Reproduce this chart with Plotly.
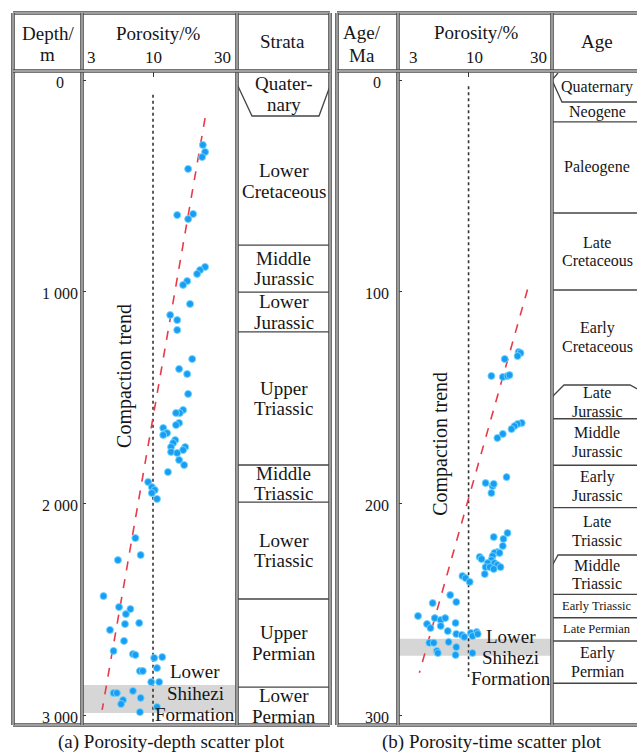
import plotly.graph_objects as go
import math

W, H = 637, 753

# ---------------- data ----------------
left_porosity = [23.4, 24.3, 23.1, 18.2, 15.1, 19.8, 18.2, 24.3, 22.3, 21.2, 17.9, 16.7, 18.8, 13.4, 15.1,
                 15.1, 19.5, 15.6, 17.9, 18.2, 16.7, 15.8, 14.8, 15.6, 14.8, 11.9, 12.3, 12.7, 11.9, 14.6,
                 14.1, 13.6, 17.3, 16.7, 13.6, 15.1, 15.6, 17.0, 12.9, 9.2, 9.8, 10.3, 9.8, 10.7, 7.4,
                 8.1, 5.5, 4.3, 5.6, 6.8, 6.3, 6.2, 7.9, 4.8, 6.1, 5.1, 7.1, 7.4, 10.2, 11.7,
                 10.7, 8.0, 8.4, 9.7, 11.1, 5.1, 5.4, 7.1, 8.1, 6.0, 5.8, 8.0, 10.7]
left_depth = [307, 340, 364, 420, 638, 633, 657, 883, 898, 916, 950, 968, 1058, 1110, 1134,
              1181, 1318, 1365, 1389, 1483, 1559, 1573, 1573, 1620, 1630, 1644, 1668, 1668, 1677, 1701,
              1715, 1734, 1734, 1748, 1757, 1762, 1795, 1819, 1852, 1899, 1923, 1937, 1951, 1979, 2164,
              2244, 2268, 2438, 2490, 2499, 2523, 2570, 2565, 2598, 2650, 2697, 2712, 2716, 2730, 2726,
              2778, 2792, 2792, 2844, 2844, 2896, 2896, 2886, 2919, 2929, 2948, 2986, 2962]

right_porosity = [23.6, 24.4, 23.2, 18.6, 14.8, 18.0, 19.5, 20.2, 24.9, 23.2, 22.0, 20.9, 18.0, 16.4, 19.2,
                  13.4, 15.1, 14.8, 15.4, 19.5, 15.4, 18.2, 18.0, 16.4, 15.6, 17.0, 15.1, 12.1, 12.5, 14.8,
                  13.9, 15.6, 16.4, 17.3, 13.4, 14.4, 15.4, 13.2, 9.0, 9.5, 10.2, 7.3, 5.4, 8.1, 4.2,
                  4.9, 5.6, 6.2, 6.7, 6.2, 8.0, 5.2, 7.0, 8.1, 8.9, 10.4, 11.5, 9.3, 10.7, 11.7,
                  5.1, 5.5, 7.1, 8.1, 5.8, 5.9, 8.0, 10.7]
right_age = [128.5, 129, 130.4, 131.8, 139.8, 140.3, 139.8, 139.4, 162, 162.5, 163.5, 164.9, 167.2, 169.1, 187.6,
             190.4, 191.8, 195.1, 190.8, 214, 215.9, 216.8, 220.1, 223, 223.4, 223.4, 224.9, 225.3, 226.3, 226.8,
             228.2, 228.2, 229.1, 230.1, 230.1, 230.1, 231, 233.4, 234.3, 235.3, 237.1, 243.3, 247.1, 246.6, 253.2,
             257, 254.2, 255.1, 254.2, 257.9, 256.5, 258.9, 260.3, 261.7, 262.2, 261.2, 260.8, 263.1, 262.7, 261.7,
             265.9, 265.9, 265.5, 267.9, 269.7, 270.7, 271.6, 270.7]

left_trend_porosity = [24.3, 4.2]
left_trend_depth = [180, 2976]
right_trend_porosity = [27.5, 4.3]
right_trend_age = [99, 280]

limit_porosity = 10
left_limit_depth = [70, 3047]
right_limit_age = [3, 282]

strata_names = ["Quater-|nary", "Lower|Cretaceous", "Middle|Jurassic", "Lower|Jurassic", "Upper|Triassic",
                "Middle|Triassic", "Lower|Triassic", "Upper|Permian", "Lower|Permian"]
strata_top = [-42, 175, 780, 1002, 1190, 1819, 1994, 2452, 2868]
strata_bottom = [175, 780, 1002, 1190, 1819, 1994, 2452, 2868, 3047]

age_names = ["Quaternary", "Neogene", "Paleogene", "Late|Cretaceous", "Early|Cretaceous", "Late|Jurassic",
             "Middle|Jurassic", "Early|Jurassic", "Late|Triassic", "Middle|Triassic", "Early Triassic",
             "Late Permian", "Early|Permian"]
age_top = [-4.25, 10.4, 19.8, 62.8, 99.2, 144, 160, 182, 202, 224, 243, 254, 265]
age_bottom = [10.4, 19.8, 62.8, 99.2, 144, 160, 182, 202, 224, 243, 254, 265, 285]
age_small = ["Early Triassic", "Late Permian"]

shihezi_depth = [2858, 2990]
shihezi_age = [264, 272]
shihezi_label = ["Lower", "Shihezi", "Formation"]

depth_ticks = [0, 1000, 2000, 3000]
depth_tick_text = ["0", "1 000", "2 000", "3 000"]
age_ticks = [0, 100, 200, 300]
age_tick_text = ["0", "100", "200", "300"]
porosity_ticks = [3, 10, 30]
porosity_tick_text = ["3", "10", "30"]

# ---------------- layout helpers ----------------
FONT = "Liberation Serif"
TXT = "#161616"
def px(x): return x / W
def py(y): return 1 - y / H

fig = go.Figure()

blue = "#1b9cf3"
halo = "rgba(110,215,255,0.9)"
red = "#e63b4b"

# left panel traces
fig.add_trace(go.Scatter(x=[limit_porosity, limit_porosity], y=left_limit_depth, mode="lines",
                         line=dict(color="#333", width=1.6, dash="dot"), xaxis="x", yaxis="y"))
fig.add_trace(go.Scatter(x=left_trend_porosity, y=left_trend_depth, mode="lines",
                         line=dict(color=red, width=1.6, dash="dash"), xaxis="x", yaxis="y"))
fig.add_trace(go.Scatter(x=left_porosity, y=left_depth, mode="markers",
                         marker=dict(color=blue, size=7, line=dict(color=halo, width=1)),
                         xaxis="x", yaxis="y"))
# right panel traces
fig.add_trace(go.Scatter(x=[limit_porosity, limit_porosity], y=right_limit_age, mode="lines",
                         line=dict(color="#333", width=1.6, dash="dot"), xaxis="x2", yaxis="y2"))
fig.add_trace(go.Scatter(x=right_trend_porosity, y=right_trend_age, mode="lines",
                         line=dict(color=red, width=1.6, dash="dash"), xaxis="x2", yaxis="y2"))
fig.add_trace(go.Scatter(x=right_porosity, y=right_age, mode="markers",
                         marker=dict(color=blue, size=7, line=dict(color=halo, width=1)),
                         xaxis="x2", yaxis="y2"))

xrange = [0.474, 1.622]
ydom = [py(725), py(71)]
common_x = dict(type="log", range=xrange, side="top", tickvals=[10], ticks="inside", ticklen=6,
                tickcolor="#333", showticklabels=False, showgrid=False, zeroline=False, showline=False)
common_y = dict(ticks="inside", ticklen=4, tickcolor="#333", showticklabels=False, showgrid=False,
                zeroline=False, showline=False)
fig.update_layout(
    width=W, height=H, margin=dict(l=0, r=0, t=0, b=0), paper_bgcolor="white",
    plot_bgcolor="rgba(0,0,0,0)", showlegend=False,
    xaxis=dict(domain=[px(82), px(237)], anchor="y", **common_x),
    yaxis=dict(domain=ydom, anchor="x", range=[3047, -42.5], tickvals=depth_ticks, **common_y),
    xaxis2=dict(domain=[px(398), px(552)], anchor="y2", **common_x),
    yaxis2=dict(domain=ydom, anchor="x2", range=[304.7, -4.25], tickvals=age_ticks, **common_y),
)

shapes = []
annotations = []

def line(x0, y0, x1, y1, color="#555", width=1.5, xref="paper", yref="paper", layer="above"):
    shapes.append(dict(type="line", x0=x0, y0=y0, x1=x1, y1=y1, xref=xref, yref=yref,
                       line=dict(color=color, width=width), layer=layer))

def dbl(x0, y0, x1, y1):
    line(px(x0), py(y0), px(x1), py(y1), color="#4a4a4a", width=3.6)
    line(px(x0), py(y0), px(x1), py(y1), color="#bdbdbd", width=1.4)

def path(points, color="#444", width=1.3):
    d = "M " + " L ".join(f"{px(a):.5f},{py(b):.5f}" for a, b in points)
    shapes.append(dict(type="path", path=d, xref="paper", yref="paper",
                       line=dict(color=color, width=width)))

def text(t, x, y, size, xref="paper", yref="paper", xanchor="center", yanchor="middle", **kw):
    annotations.append(dict(text=t, x=x, y=y, xref=xref, yref=yref, xanchor=xanchor, yanchor=yanchor,
                            showarrow=False, font=dict(family=FONT, size=size, color=TXT), **kw))

# gray Lower Shihezi bands
shapes.append(dict(type="rect", xref="x domain", yref="y", x0=0.005, x1=0.99,
                   y0=shihezi_depth[0], y1=shihezi_depth[1], fillcolor="#d6d6d6", line=dict(width=0),
                   layer="below"))
shapes.append(dict(type="rect", xref="x2 domain", yref="y2", x0=0.005, x1=0.995,
                   y0=shihezi_age[0], y1=shihezi_age[1], fillcolor="#d6d6d6", line=dict(width=0),
                   layer="below"))

# strata boundaries (left)
for b in strata_bottom[1:-1]:
    line(px(237), b, px(330), b, yref="y", color="#444", width=1.4)
path([(237, 84), (252, 116), (319, 116), (330, 86)])

# age boundaries (right)
for i, b in enumerate(age_bottom[1:]):
    nxt = age_names[i + 2] if i + 2 < len(age_names) else None
    if nxt in ("Late|Jurassic", "Middle|Triassic"):
        continue
    line(px(552), b, px(645), b, yref="y2", color="#444", width=1.4)
path([(558, 73), (552, 80), (562, 102), (645, 102)])
path([(552, 397), (564, 385), (630, 385), (645, 393)])
path([(552, 566), (558, 555), (645, 555)])

# frames
for (x0, x1, xa, xb) in [(13, 330, 82, 237), (337, 660, 398, 552)]:
    dbl(x0, 13, x1, 13)
    dbl(x0, 725, x1, 725)
    dbl(x0, 13, x0, 725)
    dbl(x1, 13, x1, 725)
    dbl(xa, 13, xa, 725)
    dbl(xb, 13, xb, 725)
    dbl(x0, 71, x1, 71)

# header texts
text("Depth/", px(48), py(34), 19)
text("m", px(48), py(54), 19)
text("Porosity/%", px(158), py(34), 19)
text("Strata", px(282), py(42), 19)
text("Age/", px(362), py(33), 19)
text("Ma", px(362), py(55), 19)
text("Porosity/%", px(476), py(33), 19)
text("Age", px(597), py(42), 19)

# porosity tick labels in header
for axis, shifts in (("x", [3, 0, 5]), ("x2", [9, 6, 6])):
    for v, lab, s in zip(porosity_ticks, porosity_tick_text, shifts):
        anchor = "left" if v == porosity_ticks[0] else "center"
        text(lab, math.log10(v), py(57), 17, xref=axis, xanchor=anchor, xshift=s)

# depth / age tick labels
for v, lab in zip(depth_ticks, depth_tick_text):
    text(lab, px(60), v, 16, yref="y", yshift=-2)
for v, lab in zip(age_ticks, age_tick_text):
    text(lab, px(377), v, 16, yref="y2", yshift=-2)

# strata names
for name, t, b in zip(strata_names, strata_top, strata_bottom):
    lines = name.split("|")
    n = len(lines)
    c = (t + b) / 2
    for i, ln in enumerate(lines):
        text(ln, px(283.5), c, 19, yref="y", yshift=((n - 1) / 2 - i) * 20.5)

for name, t, b in zip(age_names, age_top, age_bottom):
    lines = name.split("|")
    n = len(lines)
    c = (t + b) / 2
    size = 12.5 if name in age_small else 16
    sp = 18.5
    for i, ln in enumerate(lines):
        text(ln, px(597), c, size, yref="y2", yshift=((n - 1) / 2 - i) * sp)

# compaction trend labels
text("Compaction trend", math.log10(6.2), 1398, 20, xref="x", yref="y", textangle=-90)
text("Compaction trend", math.log10(6.1), 172, 20, xref="x2", yref="y2", textangle=-90)

# Lower Shihezi Formation labels
for i, ln in enumerate(shihezi_label):
    text(ln, 1.311, 2896, 19, xref="x", yref="y", yshift=(1 - i) * 21.5)
    text(ln, 1.313, 272.6, 19, xref="x2", yref="y2", yshift=(1 - i) * 21)

# captions
text("(a) Porosity-depth scatter plot", px(171), py(742), 19)
text("(b) Porosity-time scatter plot", px(492), py(742), 19)

fig.update_layout(shapes=shapes, annotations=annotations)
fig.write_html("out.html", config={"displayModeBar": False},
               post_script="document.body.style.margin='0px';document.body.style.overflow='hidden';")
